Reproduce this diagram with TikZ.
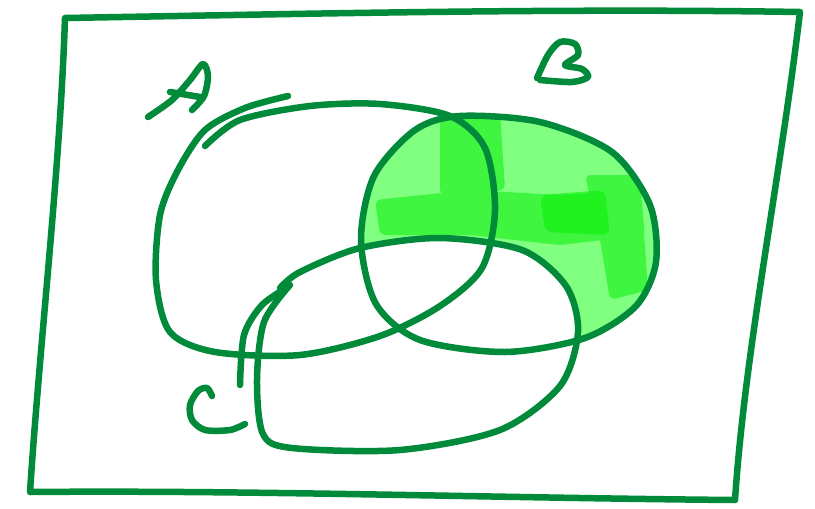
\documentclass[tikz,border=0pt]{standalone}
\begin{document}
\begin{tikzpicture}[x=1pt,y=-1pt,
  pen/.style={draw=penG,line width=6.5pt,line cap=round,line join=round},
  patch/.style={fill=midG,rounded corners=6pt},
]
\definecolor{penG}{RGB}{0,138,58}
\definecolor{lightG}{RGB}{128,255,128}
\definecolor{midG}{RGB}{64,245,64}
\definecolor{hiG}{RGB}{10,240,10}
\useasboundingbox (0,0) rectangle (815,509);
% fill: B minus C
\begin{scope}
\clip plot[smooth cycle] coordinates {(460,116) (540,122) (612,152) (650,205) (656,262) (636,306) (585,338) (505,352) (420,340) (376,304) (361,240) (374,176) (415,130)};
\fill[lightG] (350,100) rectangle (665,360);
\path[patch] (440,110) -- (500,112) -- (505,190) -- (440,195) -- cycle;
\path[patch] (375,200) -- (470,190) -- (560,195) -- (640,190) -- (645,235) -- (560,245) -- (470,235) -- (380,235) -- cycle;
\path[patch] (585,175) -- (640,175) -- (648,290) -- (610,300) -- (600,240) -- cycle;
\path[fill=hiG,opacity=0.6,rounded corners=8pt] (540,195) -- (605,190) -- (610,235) -- (545,232) -- cycle;
\end{scope}
\fill[white] plot[smooth cycle] coordinates {(440,238) (522,250) (566,286) (578,332) (560,386) (500,430) (400,450) (292,448) (262,434) (257,380) (265,320) (300,274) (360,248)};
% frame
\draw[pen] (65,18) .. controls (300,14) and (550,8) .. (800,12)
  .. controls (780,180) and (745,350) .. (735,500)
  .. controls (500,498) and (250,490) .. (30,492)
  .. controls (40,340) and (60,170) .. (65,18) -- cycle;
% A
\draw[pen] plot[smooth] coordinates {(205,146) (240,120) (310,106) (380,104) (450,116) (485,148) (495,210) (482,268) (440,306) (380,336) (300,355) (215,352) (170,332) (156,280) (160,215) (178,170) (205,130) (245,108) (288,96)};
% B
\draw[pen] plot[smooth cycle] coordinates {(460,116) (540,122) (612,152) (650,205) (656,262) (636,306) (585,338) (505,352) (420,340) (376,304) (361,240) (374,176) (415,130)};
% C
\draw[pen] plot[smooth] coordinates {(280,288) (300,272) (360,248) (440,238) (522,250) (566,286) (578,332) (560,386) (500,430) (400,450) (292,448) (263,434) (257,380) (264,322) (290,285)};
\draw[pen] plot[smooth] coordinates {(240,385) (244,335) (262,305) (288,287)};
% letters
\draw[pen] plot[smooth] coordinates {(148,117) (172,100) (190,80) (203,64) (208,76) (204,96) (192,110)};
\draw[pen] (170,92) -- (200,97);
\draw[pen] plot[smooth] coordinates {(537,78) (548,55) (560,42) (575,44) (578,55) (565,65) (582,69) (588,77) (572,82) (540,80)};
\draw[pen] plot[smooth] coordinates {(212,396) (207,388) (198,391) (190,405) (192,420) (205,430) (230,430) (245,424)};
\end{tikzpicture}
\end{document}
